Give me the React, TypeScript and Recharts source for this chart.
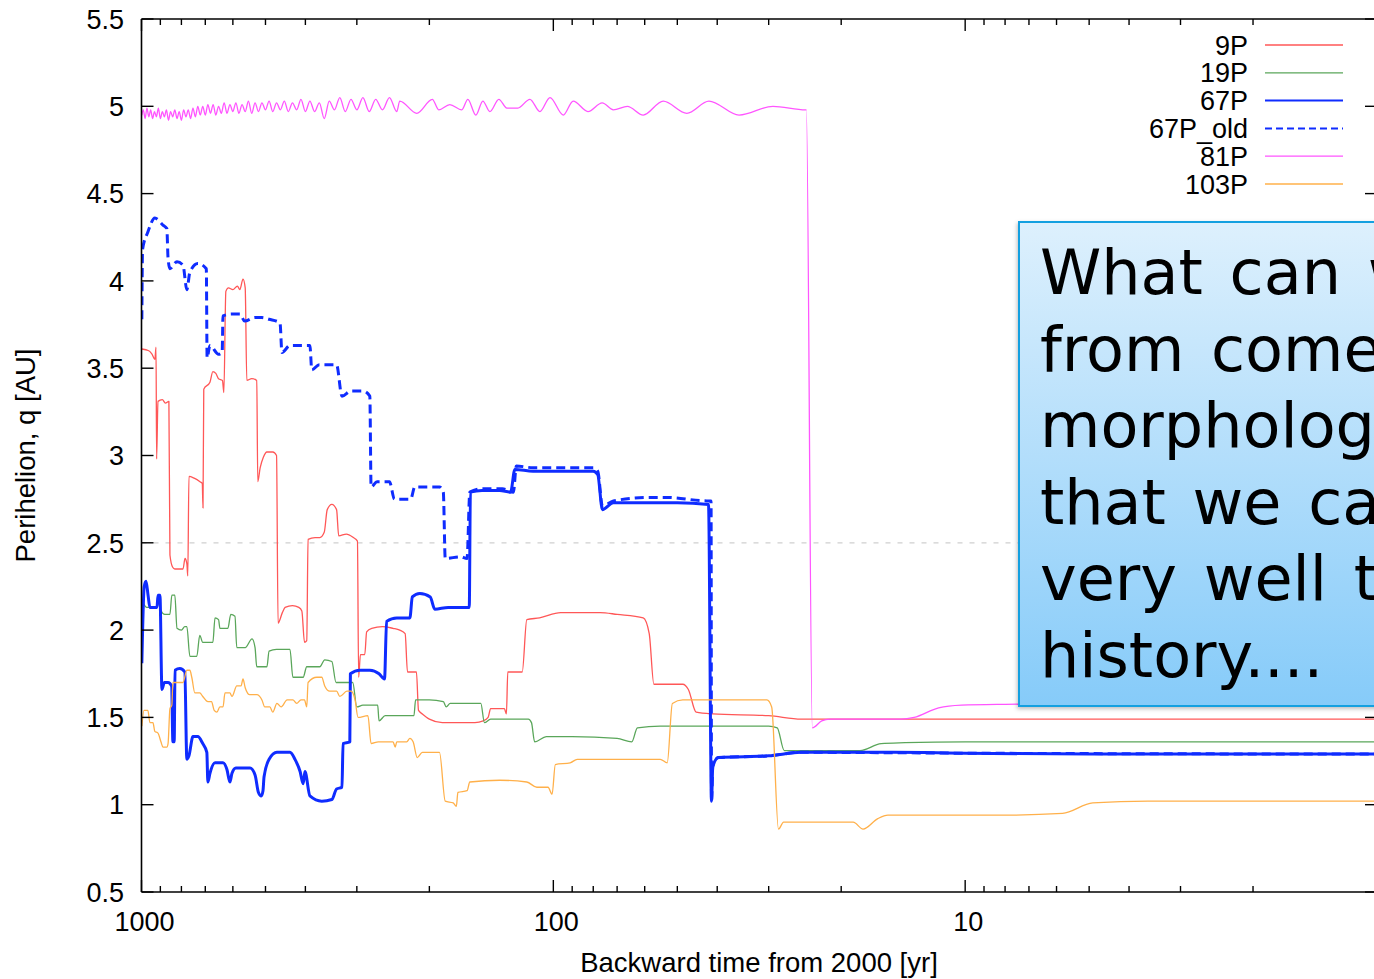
import React from "react";
import { LineChart, Line, XAxis, YAxis, ReferenceLine } from "recharts";

type Pt = [number, number]; // [backward time (yr), perihelion q (AU)]

const P9: Pt[] = [
  [998, 3.61], [960, 3.6], [943, 3.58], [928, 3.55], [922, 3.62], [919, 2.98], [912, 3.31],
  [890, 3.32], [875, 3.3], [858, 3.31], [853, 2.43], [840, 2.36], [830, 2.35], [793, 2.35],
  [784, 2.41], [776, 2.38], [772, 2.31], [767, 2.88], [745, 2.87], [721, 2.85], [712, 2.84],
  [709, 2.7], [706, 3.38], [682, 3.42], [671, 3.48], [660, 3.47], [650, 3.44], [636, 3.43],
  [631, 3.36], [624, 3.94], [615, 3.96], [600, 3.95], [585, 3.97], [577, 3.95], [567, 4.01],
  [560, 3.96], [555, 3.43], [540, 3.44], [525, 3.43], [522, 2.85], [515, 2.93], [506, 2.99],
  [496, 3.02], [480, 3.02], [470, 3.0], [466, 2.04], [455, 2.1], [448, 2.13], [430, 2.14],
  [415, 2.13], [408, 2.11], [402, 1.93], [397, 1.94], [394, 2.52], [379, 2.53], [369, 2.53],
  [360, 2.56], [354, 2.69], [345, 2.72], [336, 2.69], [332, 2.54], [318, 2.55], [306, 2.53],
  [299, 2.51], [297, 1.73], [294, 1.86], [287, 1.86], [284, 1.99], [276, 2.01], [260, 2.02],
  [245, 2.01], [236, 2.0], [229, 1.98], [226, 1.76], [215, 1.76], [212.5, 1.54], [208, 1.52],
  [200, 1.49], [186, 1.47], [170, 1.47], [155, 1.47], [148, 1.48], [144, 1.5], [142, 1.55],
  [131.5, 1.55], [130, 1.52], [129, 1.76], [119, 1.76], [116, 2.06], [108, 2.07], [96, 2.1],
  [86, 2.1], [77, 2.1], [70, 2.09], [60.5, 2.07], [58.5, 1.98], [57, 1.69], [48.5, 1.69],
  [47, 1.66], [45, 1.53], [41, 1.52], [30, 1.51], [25, 1.49], [10, 1.49], [1, 1.49],
];

const P19: Pt[] = [
  [998, 2.17], [970, 2.13], [946, 2.13], [922, 2.13], [912, 2.16], [900, 2.12], [877, 2.09],
  [853, 2.09], [844, 2.2], [830, 2.2], [820, 2.01], [800, 2.0], [785, 2.02], [776, 2.02],
  [763, 1.85], [734, 1.85], [722, 1.97], [710, 1.93], [671, 1.93], [663, 2.07], [650, 2.06],
  [645, 2.01], [617, 2.01], [607, 2.09], [593, 2.08], [587, 1.9], [560, 1.9], [539, 1.95],
  [530, 1.9], [525, 1.79], [496, 1.79], [490, 1.88], [470, 1.89], [436, 1.89], [429, 1.73],
  [405, 1.73], [397, 1.79], [369, 1.79], [359, 1.83], [345, 1.82], [337, 1.7], [307, 1.7],
  [300, 1.56], [290, 1.57], [267, 1.57], [265, 1.48], [256, 1.51], [227, 1.51], [218, 1.51],
  [216, 1.6], [200, 1.6], [185, 1.59], [182, 1.56], [178, 1.58], [150, 1.58], [147, 1.47],
  [142, 1.49], [115, 1.49], [113, 1.47], [111, 1.36], [104, 1.39], [90, 1.39], [70, 1.38],
  [64.5, 1.36], [62.5, 1.44], [55, 1.45], [45, 1.45], [30, 1.45], [28.6, 1.44], [27.5, 1.31],
  [25, 1.31], [18, 1.31], [16, 1.35], [14, 1.355], [10, 1.36], [5, 1.36], [1, 1.36],
];

const P67: Pt[] = [
  [998, 1.81], [985, 2.25], [975, 2.28], [964, 2.2], [954, 2.13], [917, 2.13], [912, 2.2],
  [902, 2.2], [892, 1.66], [880, 1.7], [862, 1.7], [845, 1.68], [839, 1.36], [833, 1.36],
  [829, 1.77], [807, 1.78], [785, 1.76], [776, 1.26], [767, 1.28], [750, 1.39], [730, 1.39],
  [710, 1.35], [694, 1.3], [690, 1.13], [682, 1.18], [663, 1.24], [634, 1.24], [620, 1.2],
  [610, 1.13], [603, 1.18], [590, 1.21], [577, 1.21], [545, 1.21], [530, 1.17], [520, 1.07],
  [512, 1.05], [507, 1.08], [504, 1.16], [490, 1.26], [469, 1.3], [436, 1.3], [424, 1.26],
  [412, 1.19], [405, 1.12], [401, 1.19], [390, 1.05], [365, 1.02], [345, 1.03], [336, 1.09],
  [326, 1.1], [324, 1.35], [312, 1.36], [311, 1.75], [295, 1.77], [279, 1.77], [265, 1.75],
  [257, 1.72], [254, 2.05], [240, 2.07], [223, 2.07], [220, 2.19], [211, 2.21], [199, 2.19],
  [194, 2.12], [180, 2.13], [162, 2.13], [160, 2.13], [159, 2.79], [149, 2.8], [135, 2.8],
  [127, 2.79], [124, 2.92], [112, 2.91], [95, 2.91], [80, 2.91], [78, 2.89], [76, 2.69],
  [71.5, 2.73], [60, 2.73], [50, 2.73], [42, 2.72], [41.3, 1.02], [41, 1.22], [39.7, 1.27],
  [30, 1.28], [25, 1.3], [15, 1.3], [10, 1.295], [5, 1.29], [1, 1.29],
];

const P67_OLD: Pt[] = [
  [998, 3.78], [994, 4.18], [965, 4.28], [928, 4.36], [887, 4.32], [868, 4.3], [862, 4.13],
  [853, 4.07], [820, 4.11], [793, 4.09], [776, 3.95], [763, 4.05], [730, 4.1], [696, 4.07],
  [693, 3.56], [682, 3.63], [650, 3.58], [637, 3.59], [634, 3.8], [603, 3.81], [577, 3.81],
  [562, 3.77], [530, 3.79], [510, 3.79], [490, 3.78], [461, 3.76], [456, 3.59], [436, 3.63],
  [390, 3.63], [386, 3.49], [370, 3.52], [336, 3.52], [326, 3.34], [310, 3.37], [290, 3.37],
  [279, 3.34], [277, 2.82], [268, 2.85], [250, 2.85], [243, 2.75], [222, 2.75], [217, 2.82],
  [189, 2.82], [185, 2.79], [183, 2.41], [168, 2.42], [162, 2.41], [159.5, 2.79], [148, 2.81],
  [133, 2.81], [125, 2.79], [123, 2.94], [112, 2.93], [90, 2.93], [80, 2.93], [78, 2.91],
  [76, 2.71], [71.5, 2.74], [58, 2.76], [52.9, 2.76], [42.4, 2.74], [41.4, 2.74], [41.3, 1.02],
  [41, 1.22], [39.7, 1.27], [30, 1.28], [25, 1.3], [10, 1.295], [1, 1.29],
];

const P81: Pt[] = [
  [998, 4.95], [990, 4.98], [980, 4.93], [970, 4.99], [960, 4.94], [950, 4.98], [940, 4.93],
  [930, 4.97], [920, 4.94], [910, 4.99], [900, 4.93], [890, 4.97], [880, 4.94], [870, 4.98],
  [860, 4.92], [850, 4.97], [840, 4.94], [830, 4.98], [820, 4.93], [810, 4.97], [800, 4.92],
  [790, 4.98], [780, 4.94], [770, 4.98], [760, 4.93], [750, 4.99], [740, 4.94], [730, 5.0],
  [720, 4.95], [710, 5.0], [700, 4.95], [690, 5.01], [680, 4.96], [670, 5.01], [660, 4.95],
  [650, 5.0], [640, 4.96], [630, 5.02], [620, 4.96], [610, 5.01], [600, 4.97], [590, 5.02],
  [580, 4.96], [570, 5.01], [560, 4.97], [550, 5.03], [540, 4.96], [530, 5.02], [520, 4.97],
  [510, 5.02], [500, 4.98], [490, 5.03], [480, 4.97], [470, 5.02], [460, 4.98], [450, 5.03],
  [440, 4.97], [430, 5.02], [420, 4.98], [410, 5.04], [400, 4.97], [390, 5.03], [380, 4.97],
  [370, 5.02], [360, 4.93], [350, 5.03], [340, 4.98], [330, 5.05], [320, 4.97], [310, 5.04],
  [300, 4.98], [290, 5.05], [280, 4.97], [270, 5.04], [260, 4.98], [250, 5.05], [240, 4.97],
  [236, 5.03], [214.6, 4.96], [196.7, 5.04], [189.8, 4.98], [178.4, 5.01], [166.8, 4.98],
  [161.3, 5.04], [154.2, 4.95], [148.3, 5.03], [142.6, 4.97], [135.6, 5.04], [129.7, 4.99],
  [121.9, 4.99], [114, 5.04], [107.8, 4.97], [101.9, 5.05], [94.6, 4.95], [89.5, 5.03],
  [82.4, 4.97], [76.1, 5.02], [71.5, 4.98], [66.1, 5.0], [60.5, 4.95], [54.1, 5.03],
  [47.4, 4.96], [41.9, 5.03], [35.4, 4.95], [29.3, 5.0], [24.4, 4.98], [24.3, 4.98],
  [23.5, 1.44], [22.3, 1.48], [21.3, 1.49], [18, 1.49], [14.3, 1.49], [13.3, 1.5],
  [11.6, 1.555], [10.2, 1.57], [8, 1.575], [4, 1.58], [1, 1.58],
];

const P103: Pt[] = [
  [998, 1.45], [986, 1.54], [965, 1.54], [954, 1.47], [938, 1.47], [928, 1.42], [912, 1.41],
  [897, 1.36], [887, 1.33], [868, 1.33], [862, 1.35], [853, 1.55], [844, 1.57], [839, 1.7],
  [793, 1.7], [776, 1.77], [763, 1.77], [755, 1.73], [742, 1.64], [722, 1.64], [710, 1.62],
  [690, 1.59], [676, 1.59], [666, 1.54], [656, 1.53], [645, 1.56], [634, 1.56], [627, 1.64],
  [610, 1.64], [603, 1.62], [587, 1.68], [573, 1.68], [567, 1.72], [560, 1.67], [546, 1.63],
  [525, 1.63], [510, 1.6], [502, 1.56], [488, 1.56], [480, 1.53], [469, 1.58], [458, 1.56],
  [443, 1.6], [429, 1.6], [420, 1.58], [410, 1.6], [402, 1.6], [397, 1.56], [394, 1.7],
  [375, 1.73], [365, 1.73], [359, 1.68], [349, 1.65], [336, 1.65], [330, 1.62], [317, 1.65],
  [310, 1.65], [303, 1.6], [298, 1.5], [282, 1.51], [277, 1.35], [266, 1.36], [245, 1.36],
  [242, 1.33], [240, 1.36], [227, 1.36], [223, 1.38], [219, 1.36], [214, 1.27], [208, 1.3],
  [189, 1.3], [183, 1.02], [175, 1.01], [172, 0.99], [170.5, 1.07], [162, 1.08], [159.5, 1.13],
  [135, 1.14], [116, 1.13], [109.6, 1.1], [103, 1.1], [100.7, 1.06], [98.9, 1.23], [91, 1.24],
  [87.5, 1.26], [65, 1.26], [55, 1.26], [52.9, 1.24], [51.4, 1.58], [48.5, 1.6], [35, 1.6],
  [30.3, 1.6], [29.5, 1.56], [28.4, 0.86], [27.6, 0.9], [20, 0.9], [18.7, 0.9], [17.7, 0.86],
  [16.3, 0.92], [15.4, 0.94], [12, 0.94], [8.2, 0.94], [5.8, 0.95], [4.9, 1.01], [3.6, 1.02],
  [1, 1.02],
];

const TIME_TICKS = [
  1, 2, 3, 4, 5, 6, 7, 8, 9,
  10, 20, 30, 40, 50, 60, 70, 80, 90,
  100, 200, 300, 400, 500, 600, 700, 800, 900, 1000,
];
const TIME_LABELS = [10, 100, 1000];
const DECADES = [1, 10, 100, 1000];
const Q_TICKS = [0.5, 1, 1.5, 2, 2.5, 3, 3.5, 4, 4.5, 5, 5.5];

const SERIES = [
  { name: "9P", pts: P9, color: "#ff5757", width: 1.3, dash: undefined },
  { name: "19P", pts: P19, color: "#5aa65a", width: 1.3, dash: undefined },
  { name: "67P", pts: P67, color: "#0f2cff", width: 3, dash: undefined },
  { name: "67P_old", pts: P67_OLD, color: "#0f2cff", width: 3, dash: "9 5" },
  { name: "81P", pts: P81, color: "#ff55ff", width: 1.3, dash: undefined },
  { name: "103P", pts: P103, color: "#ffb04a", width: 1.3, dash: undefined },
];

const FONT = "'Liberation Sans', Arial, Helvetica, sans-serif";
const toRows = (pts: Pt[]) => pts.map(([t, q]) => ({ t, q }));

function BottomTick(props: any) {
  const { x, y, payload } = props;
  const v = payload.value;
  const len = DECADES.includes(v) ? 12 : 6;
  return (
    <g>
      <line x1={x} x2={x} y1={y} y2={y - len} stroke="#000" strokeWidth={1.4} />
      {TIME_LABELS.includes(v) && (
        <text x={x + 3} y={y + 39} textAnchor="middle" fontFamily={FONT} fontSize={27} fill="#000">
          {v}
        </text>
      )}
    </g>
  );
}

function TopTick(props: any) {
  const { x, y, payload } = props;
  const len = DECADES.includes(payload.value) ? 12 : 6;
  return <line x1={x} x2={x} y1={y} y2={y + len} stroke="#000" strokeWidth={1.4} />;
}

function LeftTick(props: any) {
  const { x, y, payload } = props;
  return (
    <g>
      <line x1={x} x2={x + 12} y1={y} y2={y} stroke="#000" strokeWidth={1.4} />
      <text x={x - 17.5} y={y + 9.7} textAnchor="end" fontFamily={FONT} fontSize={27} fill="#000">
        {payload.value}
      </text>
    </g>
  );
}

function RightTick(props: any) {
  const { x, y } = props;
  return <line x1={x} x2={x - 12} y1={y} y2={y} stroke="#000" strokeWidth={1.4} />;
}

function XTitle() {
  return (
    <text x={759} y={972} textAnchor="middle" fontFamily={FONT} fontSize={27.5} fill="#000">
      Backward time from 2000 [yr]
    </text>
  );
}

function YTitle() {
  return (
    <text
      x={35}
      y={455.5}
      transform="rotate(-90 35 455.5)"
      textAnchor="middle"
      fontFamily={FONT}
      fontSize={27.5}
      fill="#000"
    >
      Perihelion, q [AU]
    </text>
  );
}

function Key() {
  return (
    <svg width={260} height={180} style={{ position: "absolute", left: 1100, top: 25 }}>
      {SERIES.map((s, i) => {
        const cy = 20 + i * 27.8;
        return (
          <g key={s.name}>
            <text x={148} y={cy + 9.5} textAnchor="end" fontFamily={FONT} fontSize={27} fill="#000">
              {s.name}
            </text>
            <line
              x1={165}
              x2={243}
              y1={cy}
              y2={cy}
              stroke={s.color}
              strokeWidth={s.width > 2 ? 2 : 1.3}
              strokeDasharray={s.dash ? "7 4" : undefined}
            />
          </g>
        );
      })}
    </svg>
  );
}

function NoteBox() {
  const lines = ["What can we learn", "from comet", "morphology", "that we can't", "very well trace", "history...."];
  return (
    <div
      style={{
        position: "absolute",
        left: 1018,
        top: 221,
        width: 440,
        height: 486,
        boxSizing: "border-box",
        border: "2px solid #14a0e0",
        background: "linear-gradient(to bottom, #ddf0fd, #86cbf9)",
        boxShadow: "-1px 2px 4px rgba(0,0,0,0.25)",
        padding: "12px 0 0 20px",
        fontFamily: "'DejaVu Sans', Verdana, sans-serif",
        fontSize: 62,
        lineHeight: "76.6px",
        wordSpacing: 7,
        color: "#000",
        whiteSpace: "nowrap",
      }}
    >
      {lines.map((l) => (
        <div key={l}>{l}</div>
      ))}
    </div>
  );
}

export default function App() {
  return (
    <div
      style={{
        position: "fixed",
        left: 0,
        top: 0,
        width: 1374,
        height: 979,
        overflow: "hidden",
        background: "#fff",
      }}
    >
      <LineChart width={1400} height={979} margin={{ top: 18, right: 22, bottom: 0, left: 0 }}>
        <XAxis
          dataKey="t"
          type="number"
          scale="log"
          domain={[1, 1000]}
          reversed
          allowDataOverflow
          ticks={TIME_TICKS}
          interval={0}
          height={87}
          tickSize={0}
          tickMargin={0}
          tickLine={false}
          axisLine={{ stroke: "#000", strokeWidth: 1.6 }}
          tick={(p: any) => <BottomTick {...p} />}
          label={<XTitle />}
        />
        {/* mirrored frame: top and right axes carry inward ticks only */}
        <XAxis
          xAxisId="top"
          orientation="top"
          dataKey="t"
          type="number"
          scale="log"
          domain={[1, 1000]}
          reversed
          allowDataOverflow
          ticks={TIME_TICKS}
          interval={0}
          height={1}
          tickSize={0}
          tickMargin={0}
          tickLine={false}
          axisLine={{ stroke: "#000", strokeWidth: 1.6 }}
          tick={(p: any) => <TopTick {...p} />}
        />
        <YAxis
          type="number"
          domain={[0.5, 5.5]}
          allowDataOverflow
          ticks={Q_TICKS}
          interval={0}
          width={141.5}
          tickSize={0}
          tickMargin={0}
          tickLine={false}
          axisLine={{ stroke: "#000", strokeWidth: 1.6 }}
          tick={(p: any) => <LeftTick {...p} />}
          label={<YTitle />}
        />
        <YAxis
          yAxisId="right"
          orientation="right"
          type="number"
          domain={[0.5, 5.5]}
          allowDataOverflow
          ticks={Q_TICKS}
          interval={0}
          width={1}
          tickSize={0}
          tickMargin={0}
          tickLine={false}
          axisLine={{ stroke: "#000", strokeWidth: 1.6 }}
          tick={(p: any) => <RightTick {...p} />}
        />
        <ReferenceLine y={2.5} stroke="#cfcfcf" strokeWidth={1.3} strokeDasharray="5 7" />
        {SERIES.map((s) => (
          <Line
            key={s.name}
            data={toRows(s.pts)}
            dataKey="q"
            name={s.name}
            type="monotone"
            stroke={s.color}
            strokeWidth={s.width}
            strokeDasharray={s.dash}
            strokeLinejoin="round"
            dot={false}
            activeDot={false}
            isAnimationActive={false}
          />
        ))}
      </LineChart>
      <Key />
      <NoteBox />
    </div>
  );
}
